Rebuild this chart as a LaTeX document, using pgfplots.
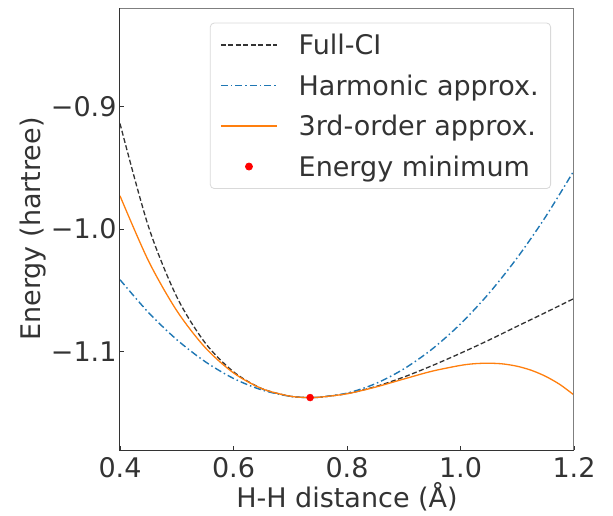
\documentclass[border=0pt]{standalone}
\usepackage{pgfplots}
\pgfplotsset{compat=1.18}
\usepackage{fontspec}
\setmainfont{DejaVu Sans}
\definecolor{txt}{HTML}{333333}
\definecolor{spinegray}{HTML}{7F7F7F}
\definecolor{tabblue}{HTML}{1F77B4}
\definecolor{taborange}{HTML}{FF7F0E}
\definecolor{fcigray}{HTML}{333333}

\begin{document}
\begin{tikzpicture}
\begin{axis}[
    name=ax,
    scale only axis,
    width=454pt, height=442pt,
    xmin=0.4, xmax=1.2,
    ymin=-1.18, ymax=-0.82,
    xtick={0.4,0.6,0.8,1.0,1.2},
    xticklabels={0.4,0.6,0.8,1.0,1.2},
    ytick={-1.1,-1.0,-0.9},
    yticklabels={−1.1,−1.0,−0.9},
    tick align=inside,
    major tick length=4pt,
    xtick pos=bottom, ytick pos=left,
    tick style={color=txt, line width=0.8pt},
    axis line style={draw=none},
    after end axis/.code={
        \draw[spinegray, line width=1pt] (rel axis cs:0,1) -- (rel axis cs:1,1) -- (rel axis cs:1,0);
        \draw[txt, line width=1pt] (rel axis cs:0,1) -- (rel axis cs:0,0) -- (rel axis cs:1,0);
    },
    ticklabel style={font=\fontsize{27}{32}\selectfont, text=txt},
    xticklabel style={yshift=-4pt},
    label style={font=\fontsize{27}{32}\selectfont, text=txt},
    xlabel={H-H distance (Å)},
    ylabel={Energy (hartree)},
    xlabel style={yshift=2pt},
    ylabel style={yshift=-2pt},
    legend style={at={(0.198,0.967)}, anchor=north west,
        font=\fontsize{27}{32}\selectfont,
        draw=black!15, rounded corners=4pt, line width=0.8pt,
        inner xsep=10pt, inner ysep=9pt, row sep=14.5pt, column sep=19pt,
        nodes={inner sep=2pt}},
    legend cell align=left,
    legend image code/.code={\draw[#1] (0pt,0pt) -- (56pt,0pt);},
]
% Full-CI
\addplot[color=fcigray, line width=1.3pt, dash pattern=on 5pt off 2.5pt, smooth] coordinates {
(0.40,-0.9141)(0.45,-0.9978)(0.50,-1.0552)(0.55,-1.0927)(0.60,-1.1163)
(0.65,-1.1300)(0.70,-1.1362)(0.735,-1.1373)(0.75,-1.1371)(0.80,-1.1341)
(0.85,-1.1284)(0.90,-1.1206)(0.95,-1.1113)(1.00,-1.1012)(1.05,-1.0905)
(1.10,-1.0792)(1.15,-1.0680)(1.20,-1.0566)
};
\addlegendentry{\textcolor{txt}{Full-CI}}
% Harmonic
\addplot[color=tabblue, line width=1.4pt, dash pattern=on 7pt off 3pt on 1.5pt off 3pt, smooth] coordinates {
(0.40,-1.0413)(0.45,-1.0679)(0.50,-1.0901)(0.55,-1.1080)(0.60,-1.1217)
(0.65,-1.1311)(0.70,-1.1363)(0.735,-1.1373)(0.75,-1.1371)(0.80,-1.1337)
(0.85,-1.1260)(0.90,-1.1140)(0.95,-1.0978)(1.00,-1.0773)(1.05,-1.0525)
(1.10,-1.0234)(1.15,-0.9900)(1.20,-0.9524)
};
\addlegendentry{\textcolor{txt}{Harmonic approx.}}
% 3rd order
\addplot[color=taborange, line width=1.3pt, smooth] coordinates {
(0.40,-0.9730)(0.45,-1.0258)(0.50,-1.0665)(0.55,-1.0965)(0.60,-1.1172)
(0.65,-1.1300)(0.70,-1.1362)(0.735,-1.1373)(0.75,-1.1371)(0.80,-1.1342)
(0.85,-1.1288)(0.90,-1.1222)(0.95,-1.1158)(1.00,-1.1111)(1.025,-1.1097)
(1.05,-1.1093)(1.075,-1.1099)(1.10,-1.1118)(1.125,-1.1151)(1.15,-1.1200)
(1.175,-1.1266)(1.20,-1.1352)
};
\addlegendentry{\textcolor{txt}{3rd-order approx.}}
% minimum
\addplot[only marks, mark=*, mark size=3.5pt, color=red, mark options={draw=red, fill=red},
    legend image code/.code={\fill[red] (28pt,0pt) circle (3.5pt);}] coordinates {(0.735,-1.1373)};
\addlegendentry{\textcolor{txt}{Energy minimum}}
\end{axis}
\path (ax.south west) ++(-120pt,-65pt) rectangle ++(613pt,515pt);
\end{tikzpicture}
\end{document}
